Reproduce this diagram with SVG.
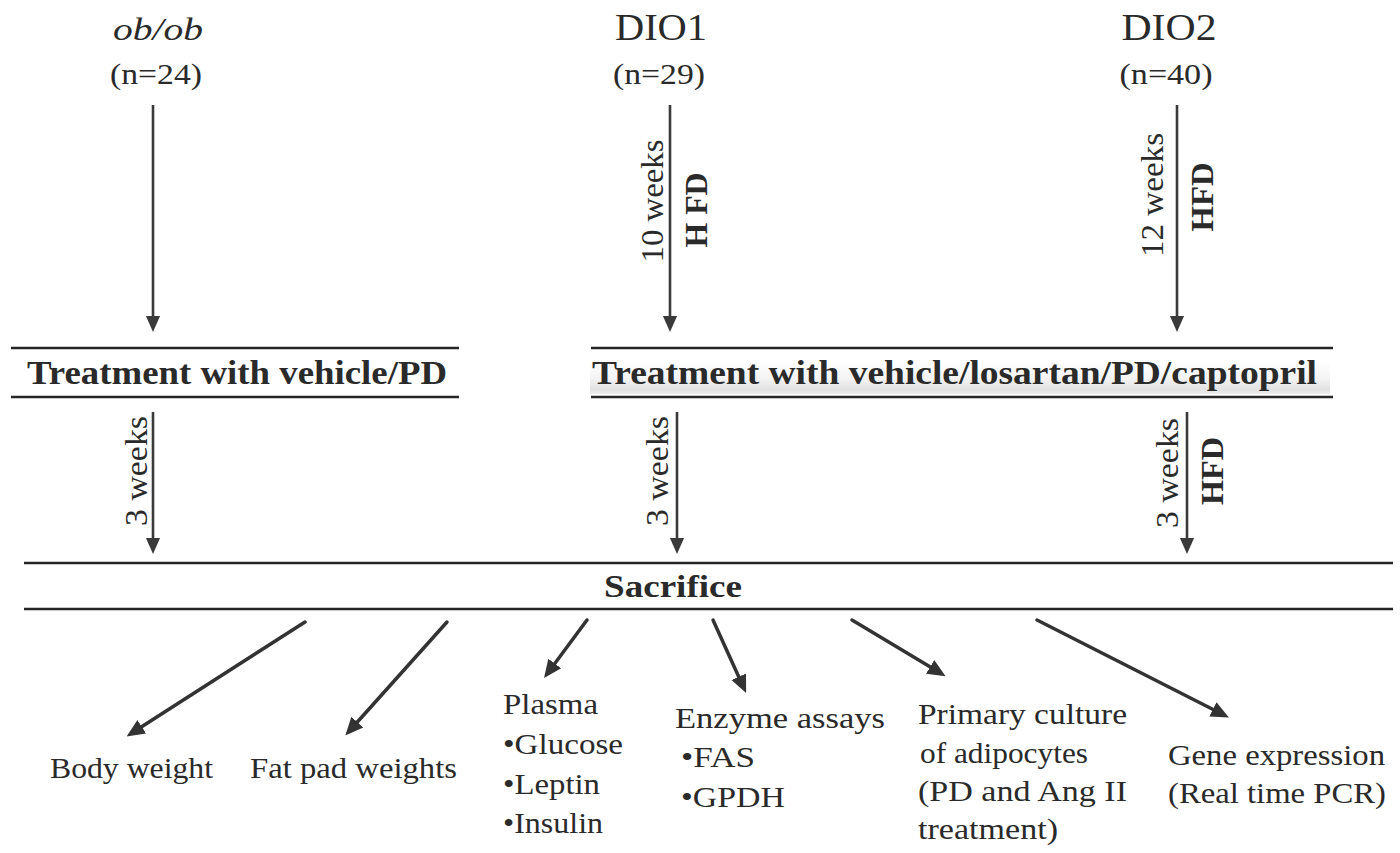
<svg xmlns="http://www.w3.org/2000/svg" width="1400" height="853" viewBox="0 0 1400 853">
<style>
  .t{font-family:"Liberation Serif","Times New Roman",serif;fill:#2a2a2a}
  .b{font-weight:bold}
  .hl{stroke:#262626;stroke-width:2.5}
  .va{stroke:#3a3a3a;stroke-width:2.6;fill:none}
  .da{stroke:#333;stroke-width:3.5;fill:none;stroke-linecap:round}
</style>
<defs>
  <marker id="ah" markerUnits="userSpaceOnUse" markerWidth="16" markerHeight="18" refX="8" refY="8" orient="auto" viewBox="0 0 18 16">
    <path d="M0,0 L18,8 L0,16 z" fill="#3a3a3a"/>
  </marker>
  <marker id="ad" markerUnits="userSpaceOnUse" markerWidth="18" markerHeight="18" refX="8" refY="8" orient="auto" viewBox="0 0 18 16">
    <path d="M0,0 L18,8 L0,16 z" fill="#333"/>
  </marker>
  <linearGradient id="band" x1="0" y1="0" x2="0" y2="1">
    <stop offset="0" stop-color="#ffffff"/>
    <stop offset="0.5" stop-color="#f4f4f4"/>
    <stop offset="0.85" stop-color="#e2e2e2"/>
    <stop offset="1" stop-color="#ececec"/>
  </linearGradient>
</defs>

<g id="obob">
  <text class="t" x="158" y="40" font-size="32" font-style="italic" text-anchor="middle" textLength="90" lengthAdjust="spacingAndGlyphs" fill="#444">ob/ob</text>
  <text class="t" x="156" y="84" font-size="30" text-anchor="middle" textLength="92" lengthAdjust="spacingAndGlyphs">(n=24)</text>
</g>
<g id="dio1">
  <text class="t" x="661" y="40" font-size="38" text-anchor="middle" textLength="92" lengthAdjust="spacingAndGlyphs">DIO1</text>
  <text class="t" x="659" y="84" font-size="30" text-anchor="middle" textLength="92" lengthAdjust="spacingAndGlyphs">(n=29)</text>
</g>
<g id="dio2">
  <text class="t" x="1169" y="40" font-size="38" text-anchor="middle" textLength="95" lengthAdjust="spacingAndGlyphs">DIO2</text>
  <text class="t" x="1166" y="84" font-size="30" text-anchor="middle" textLength="93" lengthAdjust="spacingAndGlyphs">(n=40)</text>
</g>

<g id="treat1">
  <line class="hl" x1="11" y1="348" x2="459" y2="348"/>
  <text class="t b" x="27" y="384" font-size="33" textLength="420" lengthAdjust="spacingAndGlyphs">Treatment with vehicle/PD</text>
  <line class="hl" x1="11" y1="397" x2="459" y2="397"/>
</g>
<g id="treat2">
  <rect x="590" y="362" width="740" height="32" fill="url(#band)"/>
  <line class="hl" x1="591" y1="348" x2="1333" y2="348"/>
  <text class="t b" x="592" y="384" font-size="33" textLength="725" lengthAdjust="spacingAndGlyphs">Treatment with vehicle/losartan/PD/captopril</text>
  <line class="hl" x1="591" y1="397" x2="1333" y2="397"/>
</g>
<g id="sacrifice">
  <line class="hl" x1="24" y1="563" x2="1393" y2="563"/>
  <text class="t b" x="604" y="597" font-size="31" textLength="138" lengthAdjust="spacingAndGlyphs">Sacrifice</text>
  <line class="hl" x1="24" y1="609" x2="1393" y2="609"/>
</g>

<g id="out-body"><text class="t" x="50" y="778" font-size="30" textLength="163" lengthAdjust="spacingAndGlyphs">Body weight</text></g>
<g id="out-fat"><text class="t" x="250" y="778" font-size="30" textLength="207" lengthAdjust="spacingAndGlyphs">Fat pad weights</text></g>
<g id="out-plasma">
  <text class="t" x="503" y="714" font-size="30" textLength="95" lengthAdjust="spacingAndGlyphs">Plasma</text>
  <text class="t" x="503" y="754" font-size="30" textLength="120" lengthAdjust="spacingAndGlyphs">•Glucose</text>
  <text class="t" x="503" y="794" font-size="30" textLength="97" lengthAdjust="spacingAndGlyphs">•Leptin</text>
  <text class="t" x="503" y="833" font-size="30" textLength="100" lengthAdjust="spacingAndGlyphs">•Insulin</text>
</g>
<g id="out-enzyme">
  <text class="t" x="675" y="728" font-size="30" textLength="210" lengthAdjust="spacingAndGlyphs">Enzyme assays</text>
  <text class="t" x="681" y="767" font-size="30" textLength="74" lengthAdjust="spacingAndGlyphs">•FAS</text>
  <text class="t" x="681" y="807" font-size="30" textLength="104" lengthAdjust="spacingAndGlyphs">•GPDH</text>
</g>
<g id="out-culture">
  <text class="t" x="918" y="724" font-size="30" textLength="209" lengthAdjust="spacingAndGlyphs">Primary culture</text>
  <text class="t" x="920" y="763" font-size="30" textLength="168" lengthAdjust="spacingAndGlyphs">of adipocytes</text>
  <text class="t" x="918" y="801" font-size="30" textLength="209" lengthAdjust="spacingAndGlyphs">(PD and Ang II</text>
  <text class="t" x="918" y="839" font-size="30" textLength="140" lengthAdjust="spacingAndGlyphs">treatment)</text>
</g>
<g id="out-gene">
  <text class="t" x="1168" y="765" font-size="30" textLength="217" lengthAdjust="spacingAndGlyphs">Gene expression</text>
  <text class="t" x="1168" y="803" font-size="30" textLength="218" lengthAdjust="spacingAndGlyphs">(Real time PCR)</text>
</g>

<g id="connectors">
  <line class="va" x1="153" y1="105" x2="153" y2="323" marker-end="url(#ah)"/>
  <line class="va" x1="670" y1="105" x2="670" y2="323" marker-end="url(#ah)"/>
  <line class="va" x1="1177" y1="105" x2="1177" y2="323" marker-end="url(#ah)"/>
  <line class="va" x1="153" y1="412" x2="153" y2="545" marker-end="url(#ah)"/>
  <line class="va" x1="677" y1="412" x2="677" y2="545" marker-end="url(#ah)"/>
  <line class="va" x1="1187" y1="412" x2="1187" y2="545" marker-end="url(#ah)"/>

  <line class="da" x1="305" y1="622" x2="135" y2="731" marker-end="url(#ad)"/>
  <line class="da" x1="447" y1="622" x2="352" y2="728" marker-end="url(#ad)"/>
  <line class="da" x1="587" y1="620" x2="550" y2="670" marker-end="url(#ad)"/>
  <line class="da" x1="713" y1="620" x2="742" y2="684" marker-end="url(#ad)"/>
  <line class="da" x1="852" y1="620" x2="937" y2="671" marker-end="url(#ad)"/>
  <line class="da" x1="1037" y1="620" x2="1220" y2="713" marker-end="url(#ad)"/>

  <text class="t" transform="translate(663,201) rotate(-90)" font-size="32" text-anchor="middle" textLength="123" lengthAdjust="spacingAndGlyphs">10 weeks</text>
  <text class="t b" transform="translate(707,210) rotate(-90)" font-size="32" text-anchor="middle" textLength="75" lengthAdjust="spacingAndGlyphs">H FD</text>
  <text class="t" transform="translate(1163,195) rotate(-90)" font-size="32" text-anchor="middle" textLength="124" lengthAdjust="spacingAndGlyphs">12 weeks</text>
  <text class="t b" transform="translate(1213,197) rotate(-90)" font-size="32" text-anchor="middle" textLength="69" lengthAdjust="spacingAndGlyphs">HFD</text>
  <text class="t" transform="translate(147,471) rotate(-90)" font-size="32" text-anchor="middle" textLength="110" lengthAdjust="spacingAndGlyphs">3 weeks</text>
  <text class="t" transform="translate(668,471) rotate(-90)" font-size="32" text-anchor="middle" textLength="110" lengthAdjust="spacingAndGlyphs">3 weeks</text>
  <text class="t" transform="translate(1178,473) rotate(-90)" font-size="32" text-anchor="middle" textLength="110" lengthAdjust="spacingAndGlyphs">3 weeks</text>
  <text class="t b" transform="translate(1223,471) rotate(-90)" font-size="32" text-anchor="middle" textLength="68" lengthAdjust="spacingAndGlyphs">HFD</text>
</g>
</svg>
